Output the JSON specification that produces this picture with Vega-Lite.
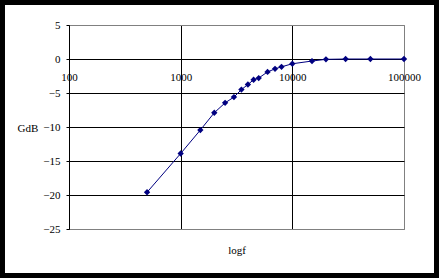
{
  "$schema": "https://vega.github.io/schema/vega-lite/v6.json",
  "width": 335,
  "height": 204,
  "autosize": {"type": "none"},
  "padding": {"left": 69, "top": 25, "right": 35, "bottom": 49},
  "background": "white",
  "config": {
    "font": "Liberation Serif",
    "view": {"stroke": "#808080", "strokeWidth": 1},
    "axis": {
      "labelFont": "Liberation Serif",
      "titleFont": "Liberation Serif",
      "labelFontSize": 11,
      "titleFontSize": 11,
      "titleFontWeight": "normal",
      "labelColor": "black",
      "titleColor": "black",
      "gridOpacity": 1,
      "tickOpacity": 1,
      "domainOpacity": 1
    }
  },
  "layer": [
    {
      "data": {"values": [{}]},
      "mark": {"type": "rect", "filled": false, "stroke": "black", "strokeWidth": 10, "clip": false},
      "encoding": {
        "x": {"datum": 24.1, "type": "quantitative", "scale": {"type": "log", "domain": [100, 100000]}},
        "x2": {"datum": 205800},
        "y": {"datum": 8.676, "type": "quantitative", "scale": {"domain": [-25, 5], "nice": false, "zero": false}},
        "y2": {"datum": -32.206}
      }
    },
    {
      "data": {
        "values": [
          {"f": 500, "g": -19.6},
          {"f": 1000, "g": -13.9},
          {"f": 1500, "g": -10.45},
          {"f": 2000, "g": -7.9},
          {"f": 2500, "g": -6.45},
          {"f": 3000, "g": -5.6},
          {"f": 3500, "g": -4.5},
          {"f": 4000, "g": -3.75},
          {"f": 4500, "g": -3.05},
          {"f": 5000, "g": -2.8},
          {"f": 6000, "g": -1.9},
          {"f": 7000, "g": -1.45},
          {"f": 8000, "g": -1.15},
          {"f": 10000, "g": -0.7},
          {"f": 15000, "g": -0.3},
          {"f": 20000, "g": -0.05},
          {"f": 30000, "g": 0},
          {"f": 50000, "g": 0},
          {"f": 100000, "g": 0}
        ]
      },
      "encoding": {
        "x": {
          "field": "f",
          "type": "quantitative",
          "scale": {"type": "log", "domain": [100, 100000]},
          "axis": {
            "title": "logf",
            "values": [100, 1000, 10000, 100000],
            "tickCount": 20,
            "format": "d",
            "offset": -170,
            "domain": false,
            "ticks": false,
            "labelPadding": 12,
            "labelFlush": false,
            "labelOverlap": false,
            "grid": true,
            "gridColor": {"condition": {"test": "datum.value >= 100000", "value": "#808080"}, "value": "black"},
            "titleY": 194,
            "titleBaseline": "alphabetic"
          }
        },
        "y": {
          "field": "g",
          "type": "quantitative",
          "scale": {"domain": [-25, 5], "nice": false, "zero": false},
          "axis": {
            "title": "GdB",
            "values": [-25, -20, -15, -10, -5, 0, 5],
            "tickCount": 20,
            "format": "d",
            "domainColor": "black",
            "tickColor": "black",
            "tickSize": 3,
            "labelPadding": 6,
            "labelOverlap": false,
            "labelFlush": false,
            "grid": true,
            "gridColor": {"condition": {"test": "datum.value == 5 || datum.value == -25", "value": "#808080"}, "value": "black"},
            "titleAngle": 0,
            "titleAlign": "left",
            "titleX": -52,
            "titleY": 106,
            "titleBaseline": "alphabetic"
          }
        }
      },
      "layer": [
        {"mark": {"type": "line", "color": "#000080", "strokeWidth": 1}},
        {"mark": {"type": "point", "shape": "diamond", "filled": true, "color": "#000080", "size": 40, "opacity": 1}}
      ]
    }
  ]
}
